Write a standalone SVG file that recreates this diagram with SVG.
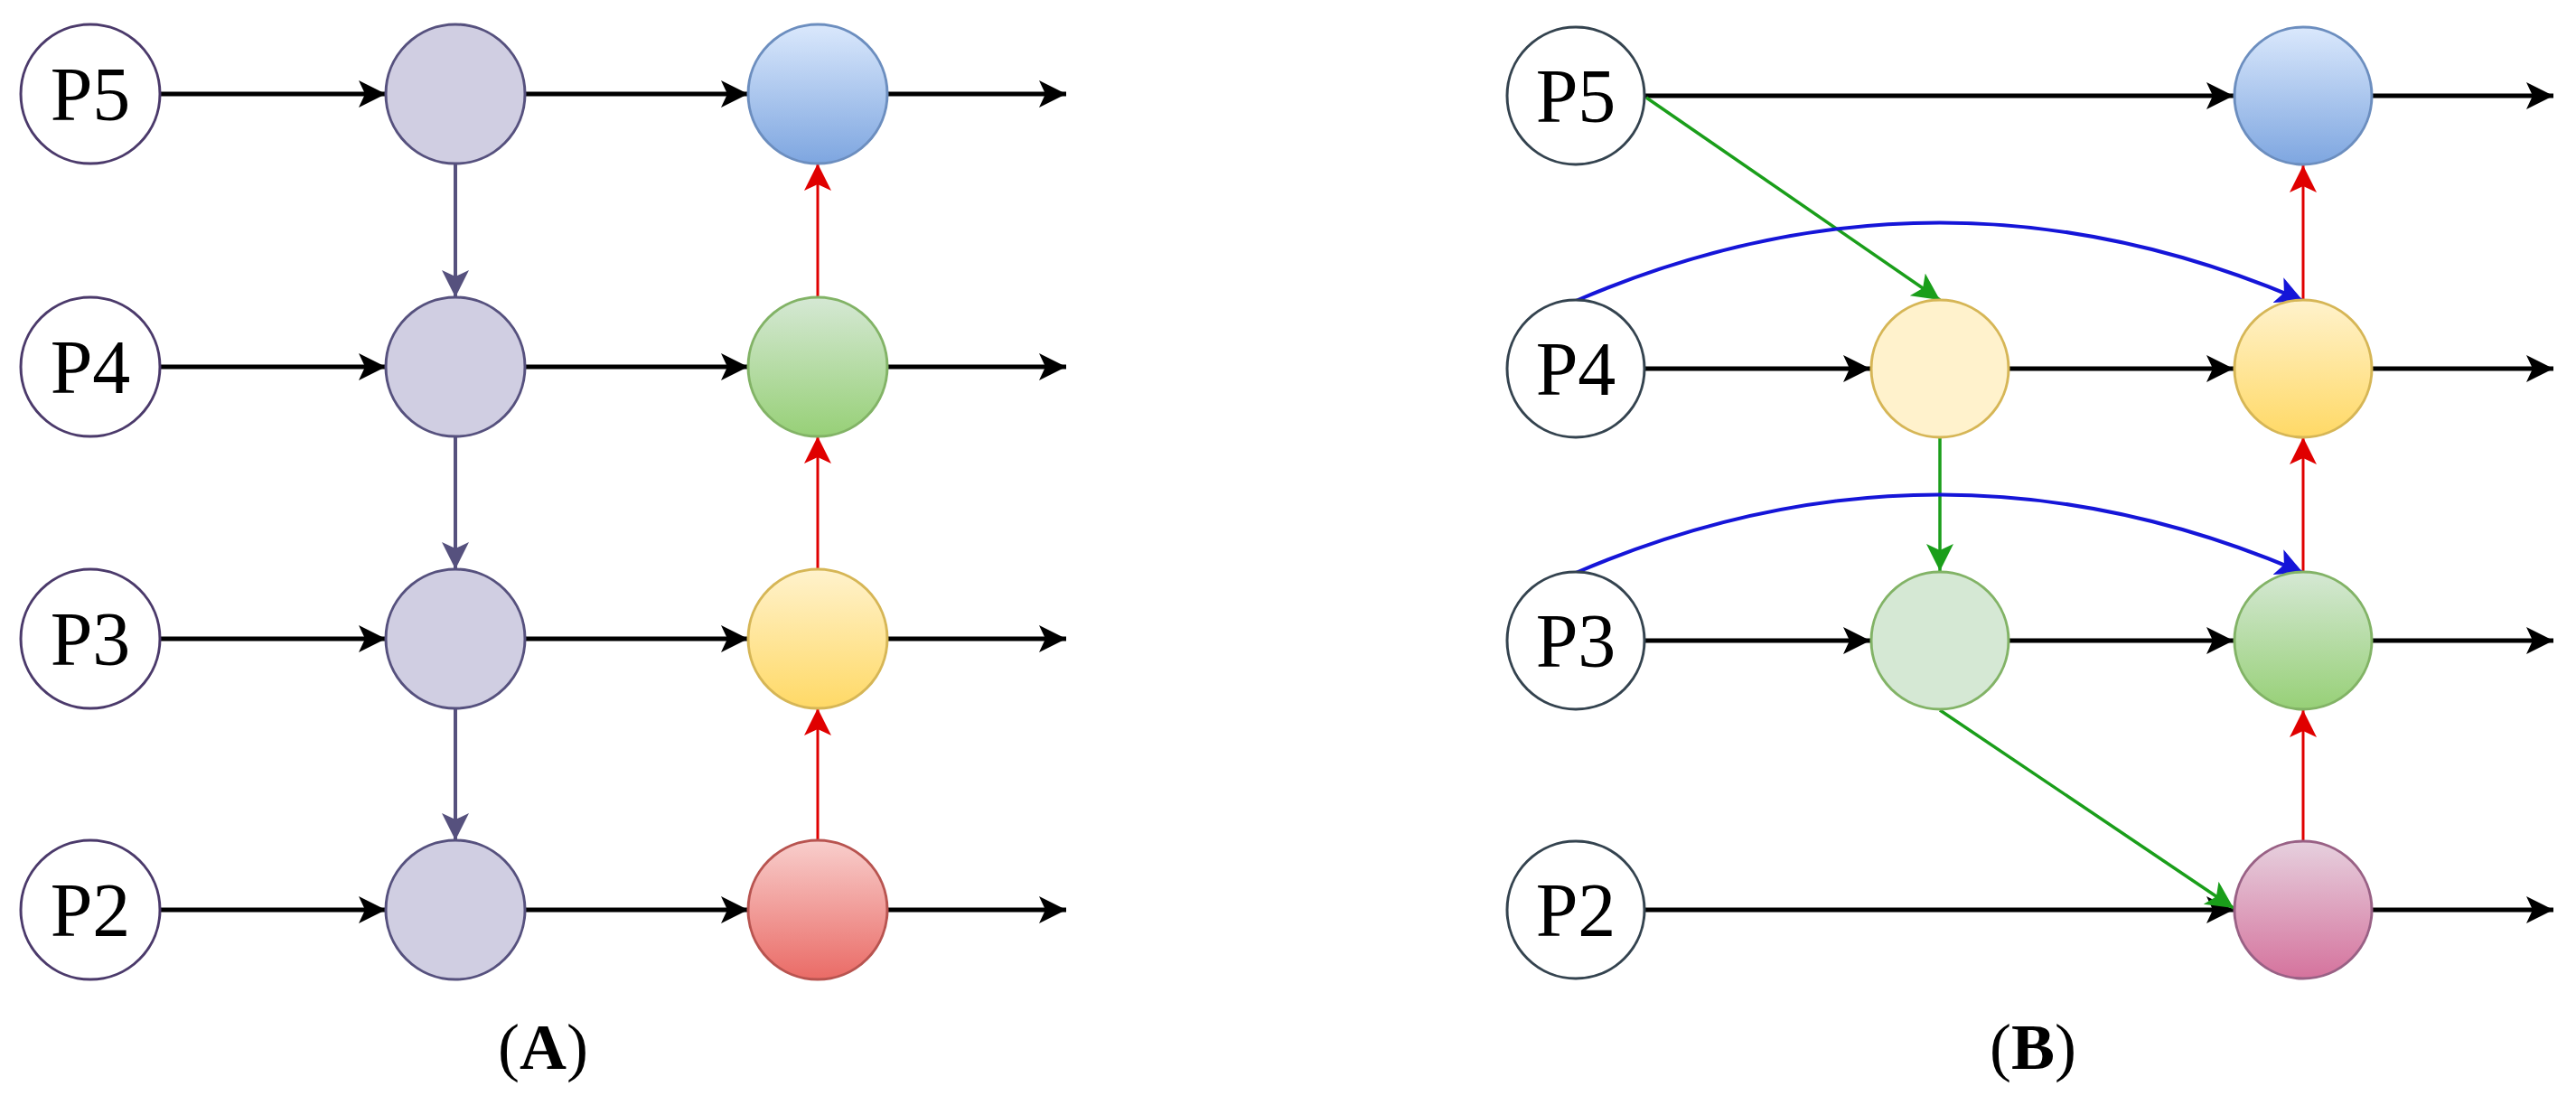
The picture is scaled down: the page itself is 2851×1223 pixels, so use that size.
<svg xmlns="http://www.w3.org/2000/svg" width="2851" height="1223" viewBox="0 0 2851 1223">
<style>
.p{fill:#fff;stroke-width:3}
.t{font-family:"Liberation Serif",serif;font-size:84px;text-anchor:middle}
.k{stroke:#000;stroke-width:5;fill:none}
.pu{stroke:#56517e;stroke-width:4;fill:none}
.r{stroke:#e00000;stroke-width:3;fill:none}
.g{stroke:#1a9e1a;stroke-width:3.5;fill:none}
.b{stroke:#1515d8;stroke-width:4;fill:none}
.lab{font-family:"Liberation Serif",serif;font-size:72px;text-anchor:middle}
</style>
<defs>
<marker id="mk" markerUnits="userSpaceOnUse" markerWidth="40" markerHeight="40" refX="30" refY="15" orient="auto"><path d="M0,0 L30,15 L0,30 L7,15Z" fill="#000"/></marker>
<marker id="mp" markerUnits="userSpaceOnUse" markerWidth="40" markerHeight="40" refX="30" refY="15" orient="auto"><path d="M0,0 L30,15 L0,30 L7,15Z" fill="#56517e"/></marker>
<marker id="mr" markerUnits="userSpaceOnUse" markerWidth="40" markerHeight="40" refX="30" refY="15" orient="auto"><path d="M0,0 L30,15 L0,30 L7,15Z" fill="#e00000"/></marker>
<marker id="mg" markerUnits="userSpaceOnUse" markerWidth="40" markerHeight="40" refX="30" refY="15" orient="auto"><path d="M0,0 L30,15 L0,30 L7,15Z" fill="#1a9e1a"/></marker>
<marker id="mb" markerUnits="userSpaceOnUse" markerWidth="40" markerHeight="40" refX="30" refY="15" orient="auto"><path d="M0,0 L30,15 L0,30 L7,15Z" fill="#1515d8"/></marker>
<linearGradient id="gb" x1="0" y1="0" x2="0" y2="1"><stop offset="0" stop-color="#dae8fc"/><stop offset="1" stop-color="#7ea6e0"/></linearGradient>
<linearGradient id="gg" x1="0" y1="0" x2="0" y2="1"><stop offset="0" stop-color="#d5e8d4"/><stop offset="1" stop-color="#97d077"/></linearGradient>
<linearGradient id="gy" x1="0" y1="0" x2="0" y2="1"><stop offset="0" stop-color="#fff2cc"/><stop offset="1" stop-color="#ffd966"/></linearGradient>
<linearGradient id="gr" x1="0" y1="0" x2="0" y2="1"><stop offset="0" stop-color="#f8cecc"/><stop offset="1" stop-color="#ea6b66"/></linearGradient>
<linearGradient id="gp" x1="0" y1="0" x2="0" y2="1"><stop offset="0" stop-color="#e6d0de"/><stop offset="1" stop-color="#d5739d"/></linearGradient>
</defs>
<g id="connectors">
<!-- A horizontals -->
<line class="k" x1="177" y1="104" x2="427" y2="104" marker-end="url(#mk)"/>
<line class="k" x1="581" y1="104" x2="828" y2="104" marker-end="url(#mk)"/>
<line class="k" x1="982" y1="104" x2="1180" y2="104" marker-end="url(#mk)"/>
<line class="k" x1="177" y1="406" x2="427" y2="406" marker-end="url(#mk)"/>
<line class="k" x1="581" y1="406" x2="828" y2="406" marker-end="url(#mk)"/>
<line class="k" x1="982" y1="406" x2="1180" y2="406" marker-end="url(#mk)"/>
<line class="k" x1="177" y1="707" x2="427" y2="707" marker-end="url(#mk)"/>
<line class="k" x1="581" y1="707" x2="828" y2="707" marker-end="url(#mk)"/>
<line class="k" x1="982" y1="707" x2="1180" y2="707" marker-end="url(#mk)"/>
<line class="k" x1="177" y1="1007" x2="427" y2="1007" marker-end="url(#mk)"/>
<line class="k" x1="581" y1="1007" x2="828" y2="1007" marker-end="url(#mk)"/>
<line class="k" x1="982" y1="1007" x2="1180" y2="1007" marker-end="url(#mk)"/>
<line class="pu" x1="504" y1="181" x2="504" y2="329" marker-end="url(#mp)"/>
<line class="pu" x1="504" y1="483" x2="504" y2="630" marker-end="url(#mp)"/>
<line class="pu" x1="504" y1="784" x2="504" y2="930" marker-end="url(#mp)"/>
<line class="r" x1="905" y1="930" x2="905" y2="784" marker-end="url(#mr)"/>
<line class="r" x1="905" y1="630" x2="905" y2="483" marker-end="url(#mr)"/>
<line class="r" x1="905" y1="329" x2="905" y2="181" marker-end="url(#mr)"/>
<!-- B horizontals -->
<line class="k" x1="1820" y1="106" x2="2472" y2="106" marker-end="url(#mk)"/>
<line class="k" x1="2626" y1="106" x2="2826" y2="106" marker-end="url(#mk)"/>
<line class="k" x1="1820" y1="408" x2="2070" y2="408" marker-end="url(#mk)"/>
<line class="k" x1="2224" y1="408" x2="2472" y2="408" marker-end="url(#mk)"/>
<line class="k" x1="2626" y1="408" x2="2826" y2="408" marker-end="url(#mk)"/>
<line class="k" x1="1820" y1="709" x2="2070" y2="709" marker-end="url(#mk)"/>
<line class="k" x1="2224" y1="709" x2="2472" y2="709" marker-end="url(#mk)"/>
<line class="k" x1="2626" y1="709" x2="2826" y2="709" marker-end="url(#mk)"/>
<line class="k" x1="1820" y1="1007" x2="2472" y2="1007" marker-end="url(#mk)"/>
<line class="k" x1="2626" y1="1007" x2="2826" y2="1007" marker-end="url(#mk)"/>
<line class="g" x1="1822" y1="108" x2="2147" y2="332" marker-end="url(#mg)"/>
<line class="g" x1="2147" y1="485" x2="2147" y2="632" marker-end="url(#mg)"/>
<line class="g" x1="2147" y1="786" x2="2472" y2="1005" marker-end="url(#mg)"/>
<line class="r" x1="2549" y1="931" x2="2549" y2="786" marker-end="url(#mr)"/>
<line class="r" x1="2549" y1="632" x2="2549" y2="484" marker-end="url(#mr)"/>
<line class="r" x1="2549" y1="332" x2="2549" y2="183" marker-end="url(#mr)"/>
<path class="b" d="M1744,333 Q2147,160 2549,333" marker-end="url(#mb)"/>
<path class="b" d="M1744,634 Q2147,461 2549,634" marker-end="url(#mb)"/>
</g>
<g id="A-P5"><circle class="p" cx="100" cy="104" r="77" stroke="#4b3a6b"/><text class="t" x="100" y="133">P5</text></g>
<g id="A-P4"><circle class="p" cx="100" cy="406" r="77" stroke="#4b3a6b"/><text class="t" x="100" y="435">P4</text></g>
<g id="A-P3"><circle class="p" cx="100" cy="707" r="77" stroke="#4b3a6b"/><text class="t" x="100" y="736">P3</text></g>
<g id="A-P2"><circle class="p" cx="100" cy="1007" r="77" stroke="#4b3a6b"/><text class="t" x="100" y="1036">P2</text></g>
<g id="A-m5"><circle cx="504" cy="104" r="77" fill="#d0cee2" stroke="#56517e" stroke-width="3"/></g>
<g id="A-m4"><circle cx="504" cy="406" r="77" fill="#d0cee2" stroke="#56517e" stroke-width="3"/></g>
<g id="A-m3"><circle cx="504" cy="707" r="77" fill="#d0cee2" stroke="#56517e" stroke-width="3"/></g>
<g id="A-m2"><circle cx="504" cy="1007" r="77" fill="#d0cee2" stroke="#56517e" stroke-width="3"/></g>
<g id="A-o5"><circle cx="905" cy="104" r="77" fill="url(#gb)" stroke="#6c8ebf" stroke-width="3"/></g>
<g id="A-o4"><circle cx="905" cy="406" r="77" fill="url(#gg)" stroke="#82b366" stroke-width="3"/></g>
<g id="A-o3"><circle cx="905" cy="707" r="77" fill="url(#gy)" stroke="#d6b656" stroke-width="3"/></g>
<g id="A-o2"><circle cx="905" cy="1007" r="77" fill="url(#gr)" stroke="#b85450" stroke-width="3"/></g>
<g id="B-P5"><circle class="p" cx="1744" cy="106" r="76" stroke="#34434f"/><text class="t" x="1744" y="135">P5</text></g>
<g id="B-P4"><circle class="p" cx="1744" cy="408" r="76" stroke="#34434f"/><text class="t" x="1744" y="437">P4</text></g>
<g id="B-P3"><circle class="p" cx="1744" cy="709" r="76" stroke="#34434f"/><text class="t" x="1744" y="738">P3</text></g>
<g id="B-P2"><circle class="p" cx="1744" cy="1007" r="76" stroke="#34434f"/><text class="t" x="1744" y="1036">P2</text></g>
<g id="B-m4"><circle cx="2147" cy="408" r="76" fill="#fff2cc" stroke="#d6b656" stroke-width="3"/></g>
<g id="B-m3"><circle cx="2147" cy="709" r="76" fill="#d5e8d4" stroke="#82b366" stroke-width="3"/></g>
<g id="B-o5"><circle cx="2549" cy="106" r="76" fill="url(#gb)" stroke="#6c8ebf" stroke-width="3"/></g>
<g id="B-o4"><circle cx="2549" cy="408" r="76" fill="url(#gy)" stroke="#d6b656" stroke-width="3"/></g>
<g id="B-o3"><circle cx="2549" cy="709" r="76" fill="url(#gg)" stroke="#82b366" stroke-width="3"/></g>
<g id="B-o2"><circle cx="2549" cy="1007" r="76" fill="url(#gp)" stroke="#996185" stroke-width="3"/></g>
<text class="lab" x="601" y="1183">(<tspan font-weight="bold">A</tspan>)</text>
<text class="lab" x="2250" y="1183">(<tspan font-weight="bold">B</tspan>)</text>
</svg>
